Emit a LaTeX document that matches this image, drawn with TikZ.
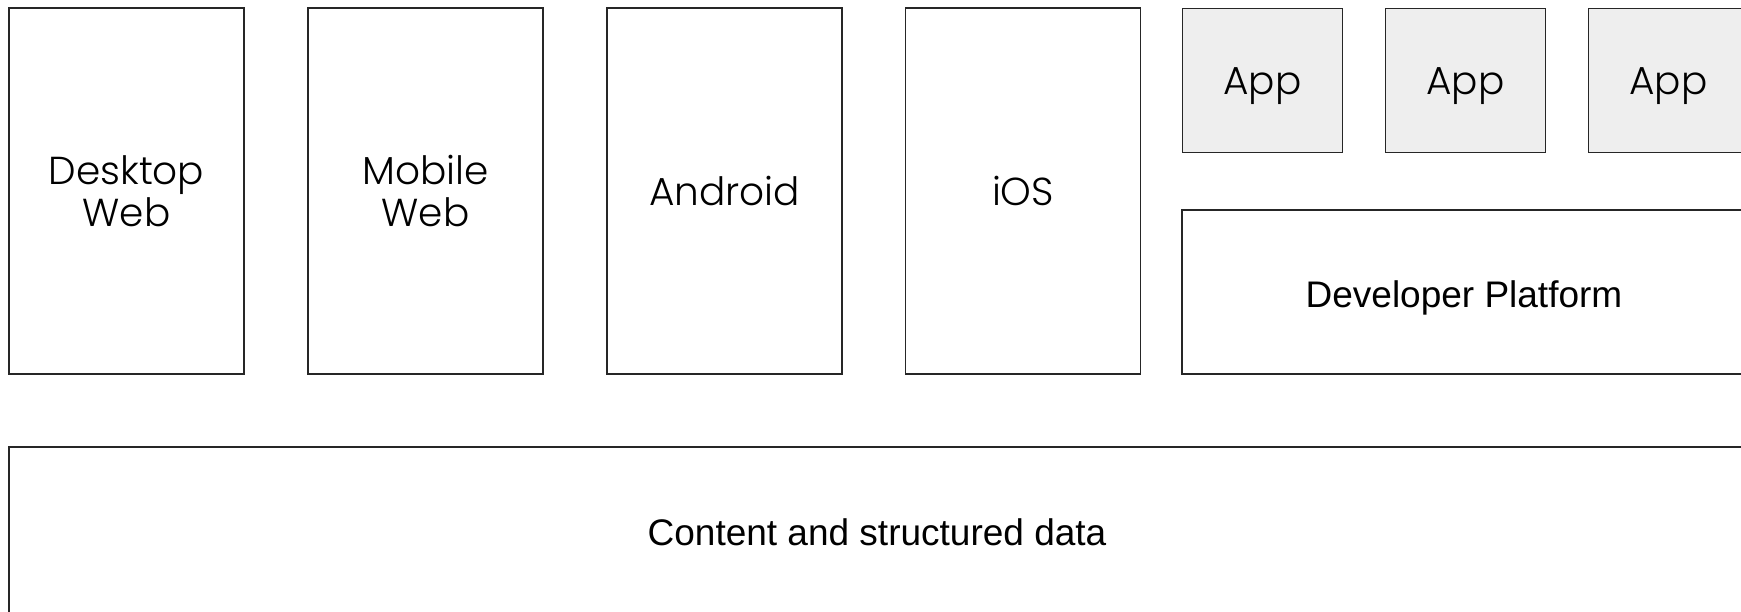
\documentclass[tikz,border=0pt]{standalone}
\usepackage{fontspec}
\setmainfont{Liberation Sans}
\newfontfamily\labelfont{Poppins Light}
\newcommand\lowered[2]{\raisebox{-#1}[\height][\depth]{#2}}
\begin{document}
\begin{tikzpicture}[x=1pt,y=-1pt,
  box/.style={draw=black!85,line width=1.5pt,inner sep=0pt,outer sep=0pt},
  tall/.style={box,minimum width=235pt,minimum height=366pt,font=\labelfont\fontsize{39}{42}\selectfont,align=center},
  appbox/.style={box,fill=black!6.5,minimum width=160pt,minimum height=144pt,font=\labelfont\fontsize{39}{40}\selectfont},
  wide/.style={box,font=\fontsize{37}{44}\selectfont}
]
\useasboundingbox (0,0) rectangle (1741,611);
\clip (0,0) rectangle (1741,611);
\node[tall] (dw) at (126.5,191) {Desktop\\Web};
\node[tall] (mw) at (425.5,191) {Mobile\\Web};
\node[tall] (an) at (724.5,191) {Android};
\node[tall] (ios) at (1023,191) {iOS};
\node[appbox] (a1) at (1262.5,80.5) {\lowered{6pt}{App}};
\node[appbox] (a2) at (1465.5,80.5) {\lowered{6pt}{App}};
\node[appbox] (a3) at (1668.5,80.5) {\lowered{6pt}{App}};
\node[wide,minimum width=564pt,minimum height=164pt] (dev) at (1464,292) {\lowered{5.5pt}{Developer Platform}};
\node[wide,minimum width=1736pt,minimum height=170pt] (cd) at (877,532) {Content and structured data};
\end{tikzpicture}
\end{document}
